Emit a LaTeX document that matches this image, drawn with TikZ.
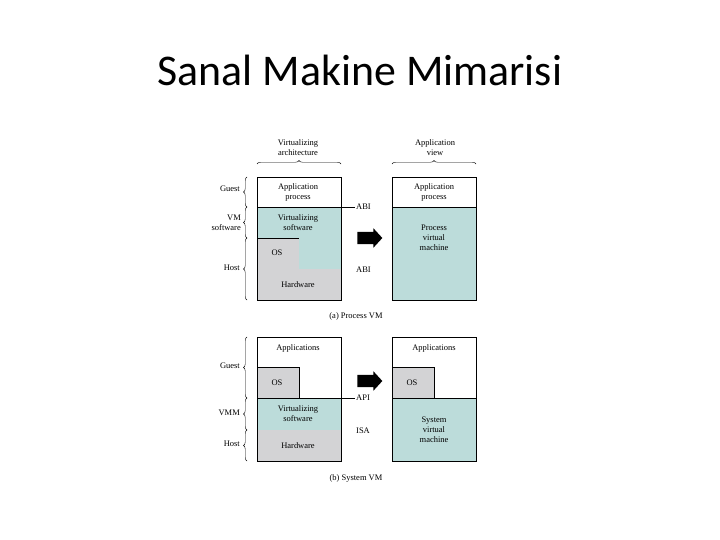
\documentclass[tikz,border=0pt]{standalone}
\usepackage{fontspec}
\setmainfont{Liberation Serif}
\newfontfamily\titlefont{Carlito}
\usetikzlibrary{arrows.meta, positioning, decorations.pathreplacing, shapes.arrows}
\definecolor{vmteal}{HTML}{BCDCDA}
\definecolor{hwgray}{HTML}{D3D3D5}
\tikzset{
  lbl/.style={font=\fontsize{8.5}{10}\selectfont, align=center, inner sep=1pt},
  sidelbl/.style={lbl, anchor=east, align=right},
  iflbl/.style={lbl, anchor=west},
  frame/.style={draw=black, line width=0.7pt},
  brc/.style={decorate, decoration={brace, amplitude=3.5bp}, line width=0.4pt},
  bigarrow/.style={single arrow, fill=black, draw=none, minimum height=25bp,
    minimum width=19bp, single arrow head extend=3.5bp, single arrow tip angle=95,
    inner sep=6bp, text height=0pt, text depth=0pt, text width=0pt}
}

\begin{document}
\begin{tikzpicture}[x=1bp, y=-1bp]
  \useasboundingbox[fill=white] (0,0) rectangle (720,540);

  % title
  \node[font=\titlefont\fontsize{44}{50}\selectfont, anchor=base] (title) at (360,86) {Sanal Makine Mimarisi};

  % ---------- (a) process VM ----------
  \node[lbl] (virtarch) at (298,148) {Virtualizing\\architecture};
  \node[lbl] (appview) at (435,148) {Application\\view};
  \draw[brc] (257,164) -- (341,164);
  \draw[brc] (392,164) -- (476,164);

  % left stack
  \fill[vmteal] (257,207) rectangle (341,238);
  \fill[vmteal] (299,238) rectangle (341,269);
  \fill[hwgray] (257,238) rectangle (299,269);
  \fill[hwgray] (257,269) rectangle (341,300);
  \draw (257,238) -- (299,238);
  \draw[frame] (257,177) rectangle (341,300);

  \node[lbl] (appA) at (298,192) {Application\\process};
  \node[lbl] (vsA) at (298,223) {Virtualizing\\software};
  \node[lbl] (osA) at (277,253) {OS};
  \node[lbl] (hwA) at (298,285) {Hardware};

  \node[iflbl] (abiA) at (355,207) {ABI};
  \node[iflbl] (abiB) at (355,270) {ABI};
  \draw (257,207) -- (abiA.west);

  \node[bigarrow] (arrA) at (367,238) {};

  % right stack
  \fill[vmteal] (392,207) rectangle (476,300);
  \draw (392,207) -- (476,207);
  \draw[frame] (392,177) rectangle (476,300);
  \node[lbl] (appR) at (434,192) {Application\\process};
  \node[lbl] (pvm) at (434,238) {Process\\virtual\\machine};

  % side labels
  \node[sidelbl] (guestA) at (241,189) {Guest};
  \node[sidelbl] (vmsw) at (242,223) {VM\\software};
  \node[sidelbl] (hostA) at (241,268) {Host};
  \foreach \ya/\yb in {207/177, 238/207, 300/238}{
    \draw[brc] (247,\ya) -- (247,\yb);
  }

  \node[lbl] (capA) at (356,316) {(a) Process VM};

  % ---------- (b) system VM ----------
  \fill[hwgray] (257,367) rectangle (299,398);
  \draw (257,367) -- (299,367) -- (299,398);
  \fill[vmteal] (257,398) rectangle (341,430);
  \fill[hwgray] (257,430) rectangle (341,461);
  \draw[frame] (257,337) rectangle (341,461);

  \node[lbl] (appsL) at (298,348) {Applications};
  \node[lbl] (osL) at (277,383) {OS};
  \node[lbl] (vsB) at (298,414) {Virtualizing\\software};
  \node[lbl] (hwB) at (298,446) {Hardware};

  \node[iflbl] (api) at (355,398) {API};
  \node[iflbl] (isa) at (355,431) {ISA};
  \draw (257,398) -- (api.west);

  \node[bigarrow] (arrB) at (367,381) {};

  % right stack
  \fill[hwgray] (392,367) rectangle (434,398);
  \draw (392,367) -- (434,367) -- (434,398);
  \fill[vmteal] (392,398) rectangle (476,461);
  \draw (392,398) -- (476,398);
  \draw[frame] (392,337) rectangle (476,461);
  \node[lbl] (appsR) at (434,348) {Applications};
  \node[lbl] (osR) at (412,383) {OS};
  \node[lbl] (svm) at (434,430) {System\\virtual\\machine};

  % side labels
  \node[sidelbl] (guestB) at (241,366) {Guest};
  \node[sidelbl] (vmm) at (241,413) {VMM};
  \node[sidelbl] (hostB) at (241,444) {Host};
  \foreach \ya/\yb in {398/337, 430/398, 461/430}{
    \draw[brc] (247,\ya) -- (247,\yb);
  }

  \node[lbl] (capB) at (356,478) {(b) System VM};
\end{tikzpicture}
\end{document}
